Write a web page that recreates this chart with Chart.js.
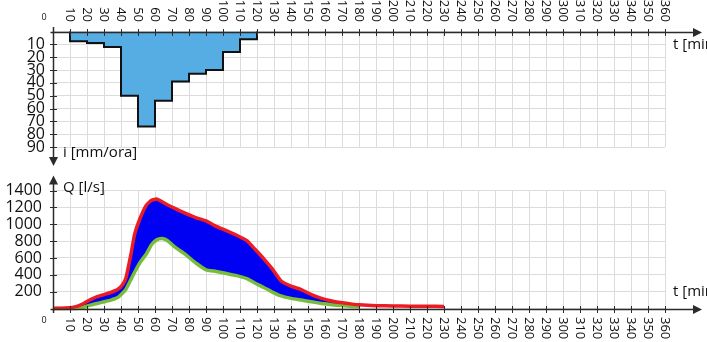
<!DOCTYPE html>
<html>
<head>
<meta charset="utf-8">
<script src="https://cdn.jsdelivr.net/npm/chart.js@4.4.1/dist/chart.umd.min.js"></script>
<style>
  html, body { margin: 0; padding: 0; background: #fff; }
  #wrap { position: relative; width: 707px; height: 342px; overflow: hidden; }
  canvas { position: absolute; left: 0; }
  #rainChart { top: 0; }
  #flowChart { top: 170px; }
</style>
</head>
<body>
<div id="wrap">
  <canvas id="rainChart" width="707" height="170"></canvas>
  <canvas id="flowChart" width="707" height="172"></canvas>
</div>
<script>
// hyetograph: rain intensity per 10-minute interval (start of interval)
const rainStart = [10, 20, 30, 40, 50, 60, 70, 80, 90, 100, 110];
const rainIntensity = [7.5, 9, 12, 50, 74, 54, 39, 33, 30, 16, 6];
const rainEnd = 120;

// hydrograph: time [min] and the two discharge curves [l/s]
const flowTime = [0, 10, 14, 18, 22, 26, 30, 34, 38, 41, 43, 46, 48, 51, 55, 58, 61, 64, 67, 72, 78, 84, 90, 96, 102, 108, 114, 119, 124, 129, 134, 140, 146, 152, 158, 164, 170, 176, 180, 190, 200, 210, 220, 230];
const flowUpper = [0, 10, 25, 60, 105, 140, 165, 190, 225, 285, 370, 660, 880, 1060, 1230, 1285, 1300, 1270, 1235, 1185, 1130, 1080, 1040, 975, 925, 870, 805, 700, 590, 470, 330, 265, 225, 165, 120, 90, 68, 52, 44, 34, 30, 28, 27, 25];
const flowLower = [0, 0, 0, 15, 40, 60, 80, 100, 130, 185, 230, 350, 430, 540, 650, 760, 815, 830, 810, 725, 640, 540, 460, 440, 415, 390, 355, 300, 250, 195, 150, 120, 100, 80, 60, 45, 35, 25, 20, null, null, null, null, null];

// tick labels of the time axis
const timeTicks = [];
for (let t = 10; t <= 360; t += 10) timeTicks.push(t);

const AXIS = '#2b2b2b';
const GRID = '#dcdcdc';
const TEXT = '#111';
const FONT = '"Open Sans", "DejaVu Sans", sans-serif';

function arrow(ctx, x, y, dir) {
    ctx.beginPath();
    if (dir === 'right') { ctx.moveTo(x, y); ctx.lineTo(x - 9, y - 4.5); ctx.lineTo(x - 9, y + 4.5); }
    if (dir === 'down') { ctx.moveTo(x, y); ctx.lineTo(x - 4.5, y - 9); ctx.lineTo(x + 4.5, y - 9); }
    if (dir === 'up') { ctx.moveTo(x, y); ctx.lineTo(x - 4.5, y + 9); ctx.lineTo(x + 4.5, y + 9); }
    ctx.closePath();
    ctx.fill();
}

function axesPlugin(cfg) {
    return {
        id: 'axesDecor',
        afterDraw(chart) {
            const ctx = chart.ctx;
            const xs = chart.scales.x;
            const ys = chart.scales.y;
            const x0 = Math.round(xs.getPixelForValue(0)) + 0.5;
            const y0 = Math.round(ys.getPixelForValue(0)) + 0.5;
            ctx.save();
            ctx.strokeStyle = AXIS;
            ctx.fillStyle = AXIS;
            ctx.lineWidth = 1.5;

            // x axis with arrow
            ctx.beginPath();
            ctx.moveTo(x0 - 3, y0);
            ctx.lineTo(697, y0);
            ctx.stroke();
            arrow(ctx, 702, y0, 'right');

            // y axis with arrow
            ctx.beginPath();
            ctx.moveTo(x0, cfg.yAxisFrom);
            ctx.lineTo(x0, cfg.yAxisTo);
            ctx.stroke();
            arrow(ctx, x0, cfg.yArrowTip, cfg.yArrowDir);

            // tick marks
            ctx.lineWidth = 1;
            ctx.beginPath();
            timeTicks.forEach(t => {
                const px = Math.round(xs.getPixelForValue(t)) + 0.5;
                ctx.moveTo(px, y0 - 3.5);
                ctx.lineTo(px, y0 + 3.5);
            });
            ys.ticks.forEach(tk => {
                if (tk.value === 0) return;
                const py = Math.round(ys.getPixelForValue(tk.value)) + 0.5;
                ctx.moveTo(x0 - 3.5, py);
                ctx.lineTo(x0 + 3.5, py);
            });
            ctx.stroke();

            // rotated time labels
            ctx.fillStyle = TEXT;
            ctx.font = '13px ' + FONT;
            ctx.textBaseline = 'middle';
            timeTicks.forEach(t => {
                const px = xs.getPixelForValue(t);
                ctx.save();
                ctx.translate(px, cfg.labelY);
                ctx.rotate(Math.PI / 2);
                ctx.textAlign = cfg.labelAlign;
                ctx.fillText(String(t), 0, 0);
                ctx.restore();
            });

            // origin label
            ctx.font = '9px ' + FONT;
            ctx.textAlign = 'center';
            ctx.fillText('0', 44, cfg.zeroY);

            // axis titles
            ctx.font = '15px ' + FONT;
            ctx.textAlign = 'left';
            ctx.fillText(cfg.yTitle, 63, cfg.yTitleY);
            ctx.fillText('t [min]', 673, cfg.tTitleY);
            ctx.restore();
        }
    };
}

function fixedSize(prop, size) {
    return function(scale) { scale[prop] = size; };
}

document.addEventListener('DOMContentLoaded', function() {
    // build the stepped outline of the hyetograph
    const rainPoints = [{ x: rainStart[0], y: 0 }];
    rainStart.forEach((t, i) => rainPoints.push({ x: t, y: rainIntensity[i] }));
    rainPoints.push({ x: rainEnd, y: rainIntensity[rainIntensity.length - 1] });
    rainPoints.push({ x: rainEnd, y: 0 });

    new Chart(document.getElementById('rainChart').getContext('2d'), {
        type: 'line',
        data: {
            datasets: [{
                data: rainPoints,
                stepped: true,
                borderColor: '#111',
                borderWidth: 2,
                backgroundColor: '#55ade4',
                fill: 'origin',
                pointRadius: 0,
                clip: 4
            }]
        },
        options: {
            responsive: false,
            animation: false,
            layout: { padding: { left: 0, right: 42, top: 0, bottom: 23 } },
            plugins: { legend: { display: false }, tooltip: { enabled: false } },
            scales: {
                x: {
                    type: 'linear', position: 'top', min: 0, max: 360,
                    ticks: { stepSize: 10, display: false },
                    grid: { color: GRID, drawTicks: false },
                    border: { display: false },
                    afterFit: fixedSize('height', 31.5)
                },
                y: {
                    type: 'linear', reverse: true, min: 0, max: 90,
                    ticks: {
                        stepSize: 10, padding: 8, color: TEXT, autoSkip: false,
                        font: { family: FONT, size: 16 },
                        callback: v => (v === 0 ? '' : v)
                    },
                    grid: { color: GRID, drawTicks: false },
                    border: { display: false },
                    afterFit: fixedSize('width', 53)
                }
            }
        },
        plugins: [axesPlugin({
            yAxisFrom: 27, yAxisTo: 158, yArrowTip: 166, yArrowDir: 'down',
            labelY: 22, labelAlign: 'right', zeroY: 17,
            yTitle: 'i [mm/ora]', yTitleY: 153, tTitleY: 45
        })]
    });

    new Chart(document.getElementById('flowChart').getContext('2d'), {
        type: 'line',
        data: {
            labels: flowTime,
            datasets: [{
                data: flowUpper,
                borderColor: '#ec1c24',
                borderWidth: 3.5,
                backgroundColor: '#0000f2',
                fill: '+1',
                pointRadius: 0,
                tension: 0.15,
                clip: 5
            }, {
                data: flowLower,
                borderColor: '#78bd3a',
                borderWidth: 3.5,
                pointRadius: 0,
                tension: 0.15,
                fill: false,
                clip: 5
            }]
        },
        options: {
            responsive: false,
            animation: false,
            layout: { padding: { left: 0, right: 42, top: 18, bottom: 0 } },
            plugins: {
                legend: { display: false },
                tooltip: { enabled: false },
                filler: { drawTime: 'beforeDatasetsDraw' }
            },
            scales: {
                x: {
                    type: 'linear', position: 'bottom', min: 0, max: 360,
                    ticks: { stepSize: 10, display: false },
                    grid: { color: GRID, drawTicks: false },
                    border: { display: false },
                    afterFit: fixedSize('height', 33.5)
                },
                y: {
                    type: 'linear', min: 0, max: 1400,
                    ticks: {
                        stepSize: 200, padding: 11, color: TEXT, autoSkip: false,
                        font: { family: FONT, size: 16 },
                        callback: v => (v === 0 ? '' : v)
                    },
                    grid: { color: GRID, drawTicks: false },
                    border: { display: false },
                    afterFit: fixedSize('width', 53)
                }
            }
        },
        plugins: [axesPlugin({
            yAxisFrom: 143, yAxisTo: 14, yArrowTip: 5.5, yArrowDir: 'up',
            labelY: 147, labelAlign: 'left', zeroY: 150,
            yTitle: 'Q [l/s]', yTitleY: 18, tTitleY: 121.5
        })]
    });
});
</script>
</body>
</html>
